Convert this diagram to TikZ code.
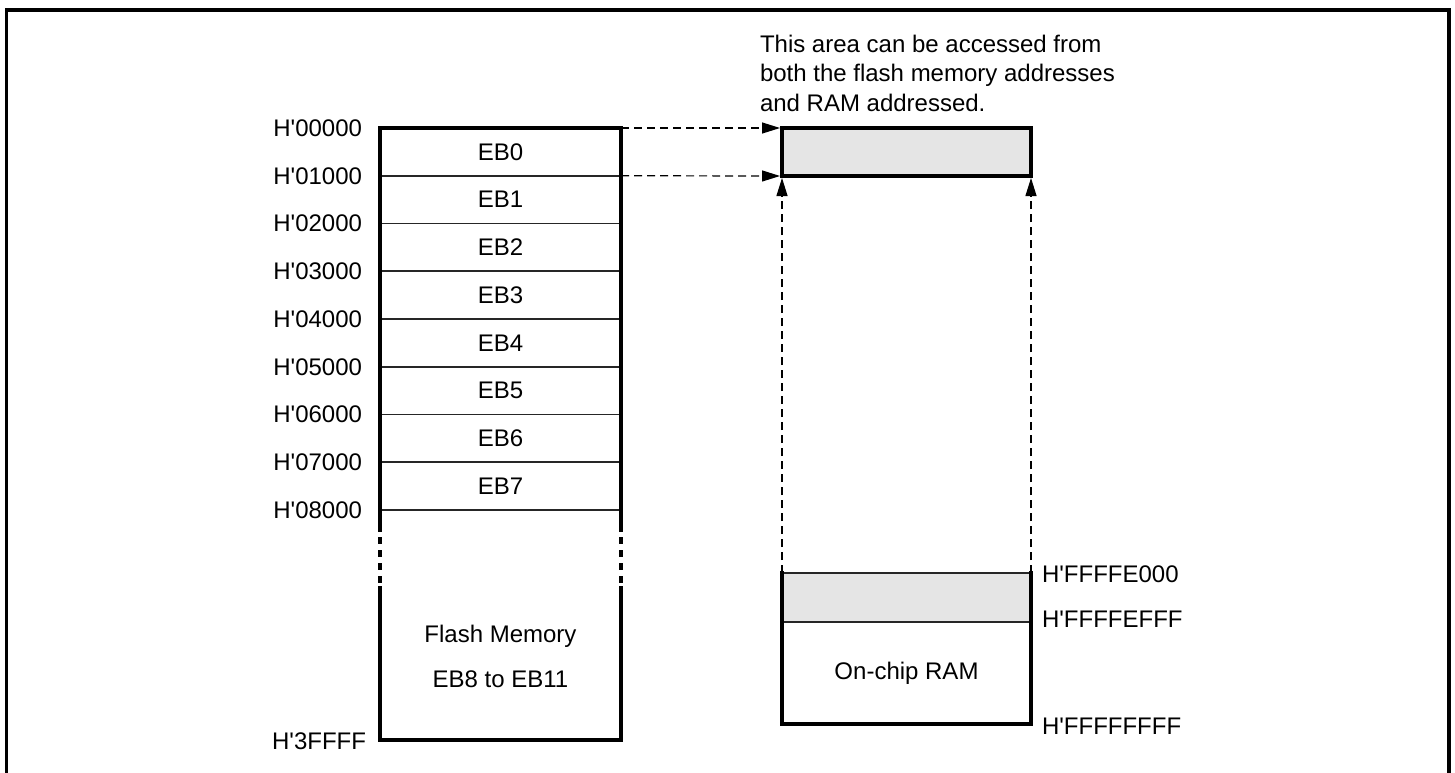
\documentclass[tikz,border=0pt]{standalone}
\usepackage{fontspec}
\setmainfont{Liberation Sans}
\usetikzlibrary{arrows.meta}
\newcommand\hq{H\textquotesingle}
\begin{document}
\begin{tikzpicture}[x=1pt,y=-1pt,
  font=\fontsize{24}{28}\selectfont,
  every node/.style={outer sep=0pt},
  thickline/.style={line width=3.8pt,line cap=rect},
  thinline/.style={line width=1.6pt,draw=black!85},
  blk/.style={minimum width=241pt,minimum height=47.75pt,inner sep=0pt},
  addr/.style={anchor=east,inner sep=0pt},
  raddr/.style={anchor=west,inner sep=0pt},
  darrow/.style={line width=1.2pt,dash pattern=on 8pt off 5pt,shorten >=2pt,-{Triangle[length=18pt,width=11pt]}},
  shade/.style={fill=black!10}]
\useasboundingbox (0,0) rectangle (1455,772);
% outer frame
\draw[line width=3.5pt] (6.5,780) -- (6.5,10) -- (1449,10) -- (1449,780);

% flash blocks
\foreach \i in {0,...,7}{
  \node[blk] (eb\i) at (500.5,{151.875+47.75*\i}) {EB\i};
}
\foreach \i in {1,...,8}{
  \draw[thinline] (380,{128+47.75*\i}) -- (621,{128+47.75*\i});
}
\draw[thickline] (380,528) -- (380,128) -- (621,128) -- (621,528);
\draw[thickline,line cap=butt,dash pattern=on 2pt off 5pt on 7pt off 6pt on 7pt off 6pt on 7pt off 6pt on 7pt off 6pt] (380,530) -- (380,588);
\draw[thickline,line cap=butt,dash pattern=on 2pt off 5pt on 7pt off 6pt on 7pt off 6pt on 7pt off 6pt on 7pt off 6pt] (621,530) -- (621,588);
\draw[thickline] (380,588) -- (380,740) -- (621,740) -- (621,588);
\node[inner sep=0pt] (flash1) at (500.5,636) {Flash Memory};
\node[inner sep=0pt] (flash2) at (500.5,679) {EB8 to EB11};

% address labels left
\node[addr] (a0) at (362,128) {\hq00000};
\node[addr] (a1) at (362,175.75) {\hq01000};
\node[addr] (a2) at (362,223.5) {\hq02000};
\node[addr] (a3) at (362,271.25) {\hq03000};
\node[addr] (a4) at (362,319) {\hq04000};
\node[addr] (a5) at (362,366.75) {\hq05000};
\node[addr] (a6) at (362,414.5) {\hq06000};
\node[addr] (a7) at (362,462.25) {\hq07000};
\node[addr] (a8) at (362,510) {\hq08000};
\node[addr] (a9) at (366,741) {\hq3FFFF};

% mirrored area (top right)
\node[draw,shade,thickline,minimum width=249pt,minimum height=48pt,inner sep=0pt,anchor=north west] (mir) at (782,128) {};

% on-chip RAM
\node[minimum width=249pt,minimum height=49pt,inner sep=0pt,anchor=north west,shade] (ramsh) at (782,573) {};
\node[minimum width=249pt,minimum height=102pt,inner sep=0pt,anchor=north west] (ram) at (782,622) {On-chip RAM};
\draw[thinline] (ramsh.north west) -- (ramsh.north east);
\draw[thinline] (ramsh.south west) -- (ramsh.south east);
\draw[thickline] (ramsh.north west) -- (ram.south west) -- (ram.south east) -- (ramsh.north east);

\node[raddr] (r0) at (1042,574) {\hq FFFFE000};
\node[raddr] (r1) at (1042,619) {\hq FFFFEFFF};
\node[raddr] (r2) at (1042,726) {\hq FFFFFFFF};

% annotation
\node[anchor=base west,inner sep=0pt,align=left,font=\fontsize{24}{29.7}\selectfont] (note) at (760,111.5)
  {This area can be accessed from\\both the flash memory addresses\\and RAM addressed.};

% arrows
\coordinate (f0) at (621,128);
\coordinate (f1) at (621,175.75);
\draw[darrow] (f0) -- (mir.north west);
\draw[darrow] (f1) -- (mir.south west);
\draw[darrow] (ramsh.north west) -- (mir.south west);
\draw[darrow] (ramsh.north east) -- (mir.south east);
\end{tikzpicture}
\end{document}
